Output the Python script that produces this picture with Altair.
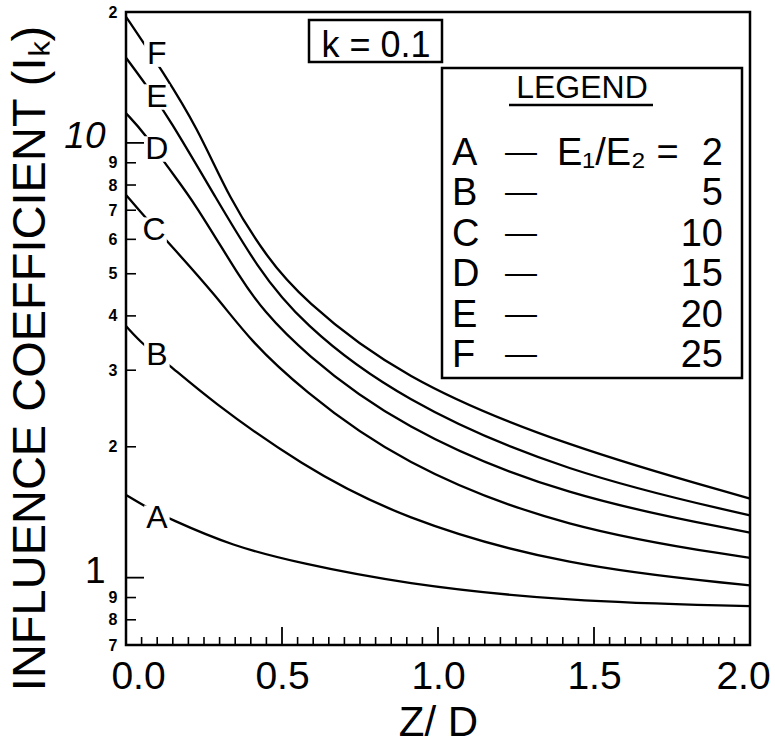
import altair as alt
import pandas as pd

FONT = "Liberation Sans"

# ---- data ----
curve_names = ["A", "B", "C", "D", "E", "F"]
ratios = [2, 5, 10, 15, 20, 25]

x_A = [0.0, 0.067, 0.135, 0.343, 0.558, 0.878, 1.413, 2.0]
y_A = [1.55, 1.45, 1.37, 1.18, 1.08, 0.97, 0.88, 0.86]

x_B = [0.0, 0.055, 0.131, 0.269, 0.558, 0.878, 1.413, 2.0]
y_B = [3.79, 3.43, 3.12, 2.56, 1.82, 1.37, 1.06, 0.96]

x_C = [0.0, 0.055, 0.135, 0.292, 0.397, 0.558, 0.878, 1.413, 2.0]
y_C = [7.59, 6.82, 5.91, 4.42, 3.52, 2.73, 1.83, 1.29, 1.11]

x_D = [0.0, 0.061, 0.135, 0.215, 0.375, 0.44, 0.558, 0.878, 1.413, 2.0]
y_D = [11.7, 10.5, 8.75, 7.39, 4.76, 4.13, 3.34, 2.21, 1.53, 1.27]

x_E = [0.0, 0.061, 0.135, 0.292, 0.42, 0.558, 0.878, 1.413, 2.0]
y_E = [15.7, 13.7, 11.5, 7.39, 5.18, 3.87, 2.56, 1.74, 1.39]

x_F = [0.0, 0.054, 0.109, 0.228, 0.333, 0.452, 0.558, 0.878, 1.413, 2.0]
y_F = [19.5, 17.1, 14.9, 10.9, 7.39, 5.46, 4.42, 2.88, 2.0, 1.52]

label_x = [0.099, 0.099, 0.09, 0.099, 0.099, 0.099]
label_y = [1.37, 3.25, 6.3, 9.68, 12.75, 16.0]

y_tick_values = [0.7, 0.8, 0.9, 1, 2, 3, 4, 5, 6, 7, 8, 9, 10, 20]
y_major_ticks = [1, 10]
x_tick_values = [0.0, 0.5, 1.0, 1.5, 2.0]
x_major_ticks = [0.5, 1.0, 1.5]
x_minor_ticks = [round(0.05 * i, 2) for i in range(1, 40) if i % 10 != 0]

# ---- tables ----
rows = []
for name, xs, ys in zip(curve_names,
                        [x_A, x_B, x_C, x_D, x_E, x_F],
                        [y_A, y_B, y_C, y_D, y_E, y_F]):
    for xx, yy in zip(xs, ys):
        rows.append({"curve": name, "x": xx, "y": yy})
curves = pd.DataFrame(rows)
labels = pd.DataFrame({"curve": curve_names, "x": label_x, "y": label_y})
ymin = pd.DataFrame({"y": [v for v in y_tick_values if v not in y_major_ticks]})
ymaj = pd.DataFrame({"y": y_major_ticks})
xmin = pd.DataFrame({"x": x_minor_ticks})
xmaj = pd.DataFrame({"x": x_major_ticks})
one = pd.DataFrame({"k": [0]})

W, H = 624, 633
MAJ = "datum.value == 1 || datum.value == 10"

xscale = alt.Scale(domain=[0, 2], nice=False)
yscale = alt.Scale(type="log", domain=[0.7, 20], nice=False)

xaxis = alt.Axis(
    values=x_tick_values, format=".1f", grid=False, ticks=False, domain=False,
    tickSize=0, labelFlush=False, labelFont=FONT, labelFontSize=39,
    labelColor="black", labelBaseline="alphabetic", labelPadding=43,
    labelOffset={"expr": "datum.value == 0 ? 12 : (datum.value == 2 ? -7 : 0)"},
    title="Z/ D", titleFont=FONT, titleFontSize=42, titleFontWeight="normal",
    titleColor="black", titleBaseline="alphabetic", titleY=90,
)
yaxis = alt.Axis(
    values=y_tick_values, grid=False, ticks=False, domain=False, tickSize=0,
    labelExpr=("datum.value >= 20 ? '2' : (datum.value < 1 ? "
               "format(round(datum.value * 10), 'd') : format(round(datum.value), 'd'))"),
    labelFont=FONT, labelColor="black",
    labelFontSize={"condition": {"test": MAJ, "value": 37}, "value": 16},
    labelFontWeight={"condition": {"test": MAJ, "value": "normal"}, "value": "bold"},
    labelFontStyle={"condition": {"test": "datum.value == 10", "value": "italic"}, "value": "normal"},
    labelPadding={"condition": {"test": MAJ, "value": 21}, "value": 9},
    labelOffset={"condition": {"test": MAJ, "value": -6}, "value": 0},
    title="INFLUENCE COEFFICIENT (Iₖ)", titleFont=FONT, titleFontSize=47,
    titleFontWeight="normal", titleColor="black", titleAngle=-90,
    titleAlign="center", titleBaseline="alphabetic", titleX=-82, titleY=346,
)

lines = alt.Chart(curves).mark_line(
    color="black", strokeWidth=2.3, interpolate="basis"
).encode(
    x=alt.X("x:Q", scale=xscale, axis=xaxis),
    y=alt.Y("y:Q", scale=yscale, axis=yaxis),
    detail="curve:N",
)

gaps = alt.Chart(labels).mark_square(size=650, color="white", opacity=1, filled=True).encode(
    x="x:Q", y="y:Q")
letter = alt.Chart(labels).mark_text(
    font=FONT, fontSize=32, color="black", align="center", baseline="middle"
).encode(x="x:Q", y="y:Q", text="curve:N")

yt_min = alt.Chart(ymin).mark_rule(color="black", strokeWidth=1.6).encode(
    y="y:Q", x=alt.value(0), x2=alt.value(10))
yt_maj = alt.Chart(ymaj).mark_rule(color="black", strokeWidth=1.8).encode(
    y="y:Q", x=alt.value(0), x2=alt.value(18))
xt_min = alt.Chart(xmin).mark_rule(color="black", strokeWidth=1.6).encode(
    x="x:Q", y=alt.value(H), y2=alt.value(H - 8))
xt_maj = alt.Chart(xmaj).mark_rule(color="black", strokeWidth=1.8).encode(
    x="x:Q", y=alt.value(H), y2=alt.value(H - 18))

kbox = alt.Chart(one).mark_rect(fill="white", stroke="black", strokeWidth=2.5).encode(
    x=alt.value(183), x2=alt.value(316), y=alt.value(8), y2=alt.value(50))
ktext = alt.Chart(one).mark_text(
    font=FONT, fontSize=36, color="black", align="center", baseline="alphabetic"
).encode(x=alt.value(250), y=alt.value(45), text=alt.value("k = 0.1"))

lbox = alt.Chart(one).mark_rect(fill="white", stroke="black", strokeWidth=2.5).encode(
    x=alt.value(316), x2=alt.value(616), y=alt.value(56), y2=alt.value(366))
ltitle = alt.Chart(one).mark_text(
    font=FONT, fontSize=32, color="black", align="center", baseline="alphabetic"
).encode(x=alt.value(456), y=alt.value(86), text=alt.value("LEGEND"))
lunder = alt.Chart(one).mark_rule(color="black", strokeWidth=2.5).encode(
    x=alt.value(383), x2=alt.value(527), y=alt.value(93))

LH = 40.4
lletters = alt.Chart(one).mark_text(
    font=FONT, fontSize=38, color="black", align="left", baseline="alphabetic",
    lineBreak="\n", lineHeight=LH
).encode(x=alt.value(326), y=alt.value(153), text=alt.value("\n".join(curve_names)))
ldashes = alt.Chart(one).mark_text(
    font=FONT, fontSize=32, color="black", align="left", baseline="alphabetic",
    lineBreak="\n", lineHeight=LH
).encode(x=alt.value(379), y=alt.value(150), text=alt.value("\n".join(["—"] * len(curve_names))))
lratio = alt.Chart(one).mark_text(
    font=FONT, fontSize=38, color="black", align="left", baseline="alphabetic"
).encode(x=alt.value(431), y=alt.value(153), text=alt.value("E₁/E₂ ="))
lnums = alt.Chart(one).mark_text(
    font=FONT, fontSize=38, color="black", align="right", baseline="alphabetic",
    lineBreak="\n", lineHeight=LH
).encode(x=alt.value(597), y=alt.value(153), text=alt.value("\n".join(str(r) for r in ratios)))

chart = alt.layer(
    lines, gaps, letter, yt_min, yt_maj, xt_min, xt_maj,
    kbox, ktext, lbox, ltitle, lunder, lletters, ldashes, lratio, lnums
).properties(
    width=W, height=H,
    autosize=alt.AutoSizeParams(type="none"),
    padding={"left": 126, "top": 12, "right": 25, "bottom": 105},
    background="white",
).configure_view(stroke="black", strokeWidth=2.5)

chart.save("out.html", embed_options={"renderer": "svg", "actions": False})
